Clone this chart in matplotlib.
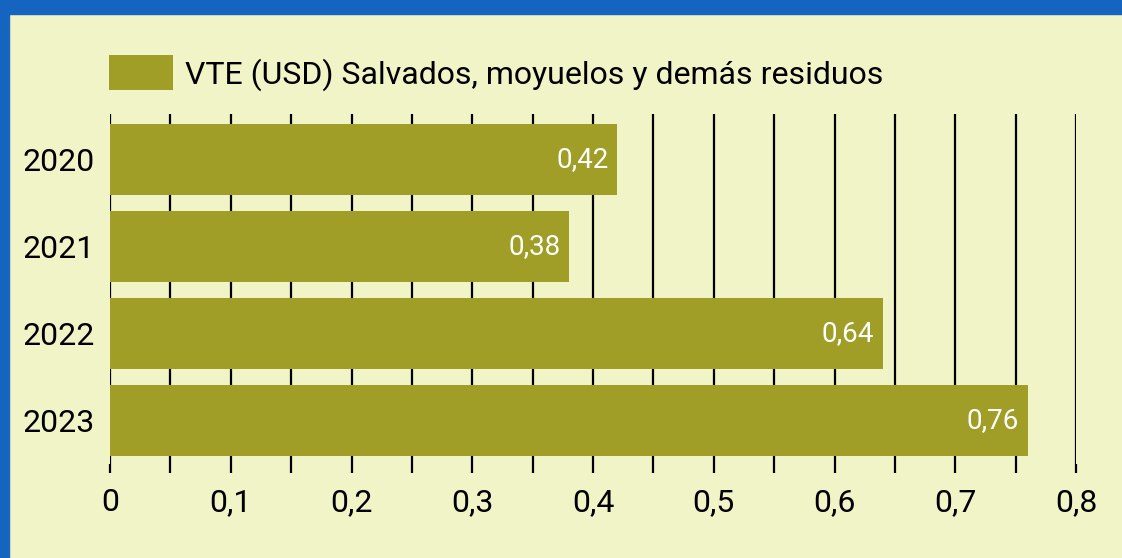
import numpy as np
import matplotlib.pyplot as plt
from matplotlib.patches import Rectangle
from matplotlib.ticker import MultipleLocator, FuncFormatter

plt.rcParams['font.family'] = ['Roboto', 'DejaVu Sans']

# datos
years = ['2020', '2021', '2022', '2023']
vte_usd = [0.42, 0.38, 0.64, 0.76]
serie = 'VTE (USD) Salvados, moyuelos y demás residuos'

bg = '#F0F4C6'
bar_color = '#A09E26'
border = '#1565C0'

W, H = 1122, 558
fig = plt.figure(figsize=(W / 100, H / 100), dpi=100, facecolor=bg)
ax = fig.add_axes([110 / W, (H - 464) / H, (1076 - 110) / W, (464 - 114) / H])
ax.set_facecolor(bg)

y = np.arange(len(years))
bars = ax.barh(y, vte_usd, height=0.82, color=bar_color, zorder=2, label=serie)

# etiquetas de valor dentro de cada barra
for b, v in zip(bars, vte_usd):
    ax.text(v - 0.007, b.get_y() + b.get_height() / 2, f'{v:.2f}'.replace('.', ','),
            ha='right', va='center', color='white', fontsize=20, zorder=3)

ax.set_xlim(0, 0.8)
ax.set_ylim(3.5, -0.52)
ax.set_yticks(y)
ax.set_yticklabels(years)

ax.xaxis.set_major_locator(MultipleLocator(0.1))
ax.xaxis.set_minor_locator(MultipleLocator(0.05))
ax.xaxis.set_major_formatter(FuncFormatter(lambda x, p: '0' if x == 0 else f'{x:.1f}'.replace('.', ',')))
ax.grid(axis='x', which='both', color='black', linewidth=1.6, zorder=1)
ax.set_axisbelow(True)

ax.tick_params(axis='x', which='both', length=6.5, width=1.6, color='black')
ax.tick_params(axis='x', which='major', labelsize=23, pad=11)
ax.tick_params(axis='y', length=0, labelsize=23, pad=11)

for s in ax.spines.values():
    s.set_visible(False)

leg = fig.legend(handles=[bars], labels=[serie], loc='center left',
                 bbox_to_anchor=(109 / W, 1 - 73 / H), frameon=False,
                 borderpad=0, borderaxespad=0,
                 fontsize=23, handlelength=2.0, handleheight=1.3, handletextpad=0.38)

# marco azul superior e izquierdo
fig.patches.append(Rectangle((0, 1 - 14 / H), 1, 14 / H, transform=fig.transFigure,
                             color=border, zorder=10))
fig.patches.append(Rectangle((0, 0), 9 / W, 1, transform=fig.transFigure,
                             color=border, zorder=10))

fig.savefig('out.png', dpi=100, facecolor=bg)
